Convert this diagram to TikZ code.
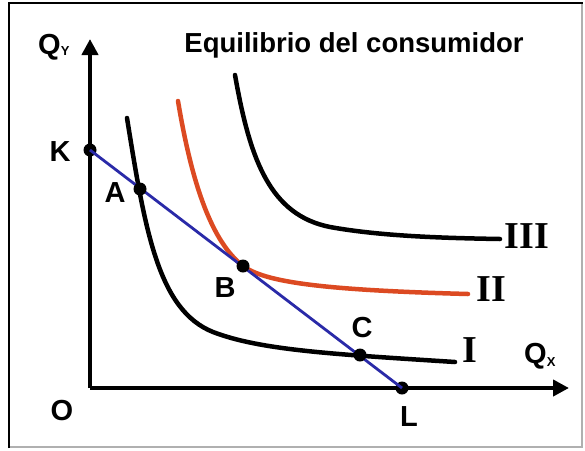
\documentclass[tikz,border=0pt]{standalone}
\usepackage{fontspec}
\usetikzlibrary{arrows.meta}
\setmainfont{Liberation Sans}
\newfontfamily\serifb{Liberation Serif}
\definecolor{budget}{HTML}{2A2AA8}
\definecolor{curveII}{HTML}{DC4A22}
\definecolor{framegray}{HTML}{B0B0B0}
\begin{document}
\begin{tikzpicture}[x=1pt,y=-1pt,
  lab/.style={font=\fontsize{29}{29}\selectfont\bfseries, inner sep=0pt},
  rom/.style={font=\fontsize{38}{38}\selectfont\serifb\bfseries, inner sep=0pt},
  dot/.style={circle, fill=black, inner sep=0pt, minimum size=13pt},
  axis/.style={line width=4.5pt, -{Triangle[length=16pt,width=16pt]}},
  icurve/.style={line width=4.5pt, line cap=round},
]
\useasboundingbox (0,0) rectangle (585,450);
\fill[white] (0,0) rectangle (585,450);
% frame
\draw[framegray, line width=1.5pt] (582,3) -- (582,447) -- (9,447);
\draw[black, line width=2.5pt] (9,448) -- (9,3) -- (583,3);
% title
\node[font=\fontsize{27.5}{27.5}\selectfont\bfseries, inner sep=0pt] (title) at (354,45) {Equilibrio del consumidor};
% axes
\coordinate (O) at (90,388);
\coordinate (ytip) at (90,39);
\coordinate (xtip) at (569,388);
\draw[axis] (O) -- (ytip);
\draw[axis] (O) -- (xtip);
% indifference curves
\draw[icurve] (127,118) .. controls (145,230) and (158,310) .. (213,332)
  .. controls (260,350) and (330,354) .. (455,362);
\draw[icurve, curveII] (178,101) .. controls (192,185) and (212,242) .. (243,266)
  .. controls (265,282) and (320,290) .. (468,294);
\draw[icurve] (235,75) .. controls (250,160) and (270,215) .. (330,227)
  .. controls (380,236) and (440,238) .. (500,239);
% points
\node[dot] (K) at (90,150) {};
\node[dot] (L) at (402,388) {};
\draw[budget, line width=2.8pt] (K.center) -- (L.center);
\node[dot] (A) at (140,189) {};
\node[dot] (B) at (243,266) {};
\node[dot] (C) at (360,355) {};
% labels
\node[lab] (Klab) at (60,152) {K};
\node[lab] (Alab) at (115,193) {A};
\node[lab] (Blab) at (225,288) {B};
\node[lab] (Clab) at (362,328) {C};
\node[lab] (Llab) at (409,417) {L};
\node[lab] (Olab) at (62,411) {O};
\node[lab, anchor=base west] (Qy) at (38,54) {Q\raisebox{-1pt}{\fontsize{13}{13}\selectfont Y}};
\node[lab, anchor=base west] (Qx) at (524,363) {Q\raisebox{-3pt}{\fontsize{13}{13}\selectfont X}};
\node[rom] (Ilab) at (470,350) {I};
\node[rom] (IIlab) at (491,289) {II};
\node[rom] (IIIlab) at (527,236) {III};
\end{tikzpicture}
\end{document}
